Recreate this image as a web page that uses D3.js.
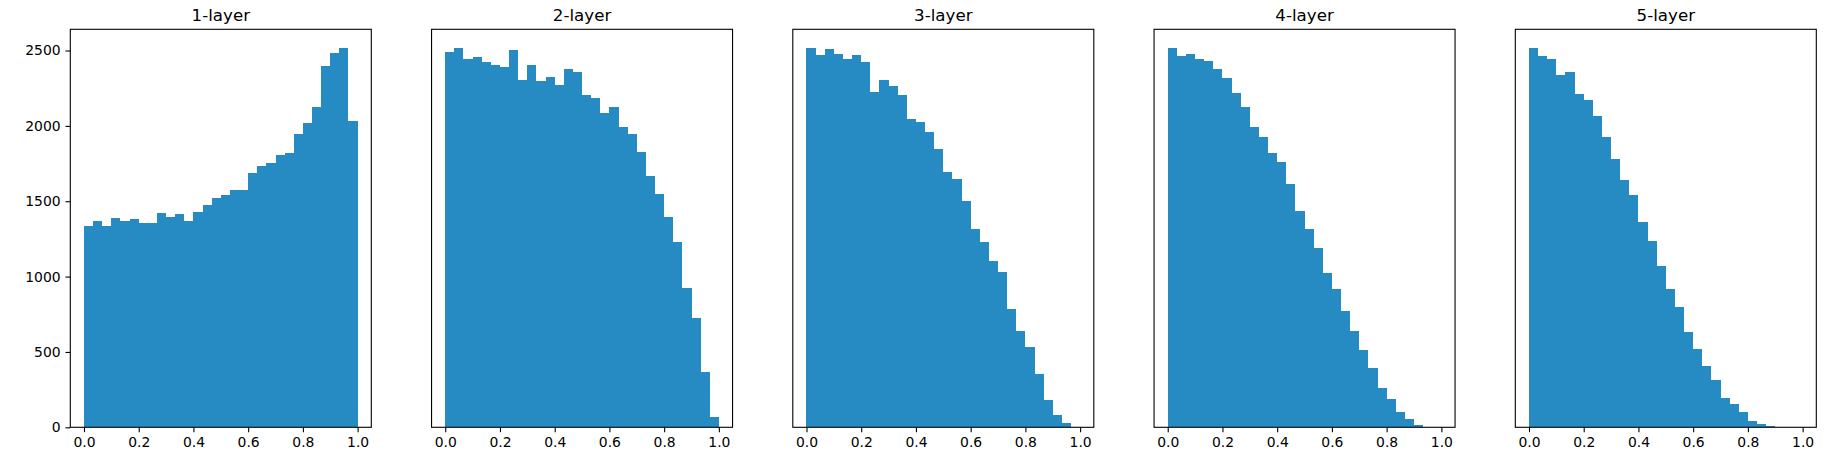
<!DOCTYPE html>
<html>
<head>
<meta charset="utf-8">
<script src="https://cdn.jsdelivr.net/npm/d3@7"></script>
<style>
  html, body { margin: 0; padding: 0; background: #fff; }
  svg { display: block; }
  text { font-family: "DejaVu Sans", sans-serif; fill: #000; }
</style>
</head>
<body>
<svg id="chart" width="1844" height="463"></svg>
<script>
// ---- data ----
const titles = ["1-layer", "2-layer", "3-layer", "4-layer", "5-layer"];
const binCount = 30;
const layer1 = [1335,1368,1335,1386,1368,1379,1355,1355,1421,1395,1412,1368,1428,1474,1521,1541,1574,1574,1687,1733,1753,1806,1819,1945,2018,2124,2396,2482,2515,2031];
const layer2 = [2489,2515,2443,2456,2423,2403,2389,2502,2303,2403,2297,2323,2270,2376,2359,2204,2184,2084,2124,1992,1945,1826,1667,1547,1395,1229,924,725,367,69];
const layer3 = [2515,2469,2509,2476,2443,2469,2423,2224,2303,2263,2204,2045,2025,1958,1846,1693,1647,1501,1315,1229,1103,1030,785,639,533,354,181,82,29,1];
const layer4 = [2515,2462,2476,2443,2429,2376,2317,2217,2124,1992,1926,1819,1760,1614,1435,1315,1189,1023,917,771,639,513,393,261,188,102,55,15,2,0];
const layer5 = [2515,2462,2443,2336,2356,2210,2171,2065,1926,1781,1640,1541,1362,1236,1070,917,798,632,519,407,314,195,155,102,42,22,9,2,0,0];
const xTicks = [0, 0.2, 0.4, 0.6, 0.8, 1.0];
const yTicks = [0, 500, 1000, 1500, 2000, 2500];

const series = [layer1, layer2, layer3, layer4, layer5];

// ---- layout ----
const svg = d3.select("#chart");
const panelLeft0 = 70.3, panelStep = 361.25, panelW = 301;
const plotTop = 29.3, plotBottom = 427.3;
const barColor = "#258bc2";
const tickLen = 4.86, tickPad = 4.86;

const yMax = d3.max(series, s => d3.max(s)) * 1.05;
const y = d3.scaleLinear().domain([0, yMax]).range([plotBottom, plotTop]);

series.forEach((vals, i) => {
  const left = panelLeft0 + i * panelStep;
  const x = d3.scaleLinear().domain([-0.05, 1.05]).range([left, left + panelW]);
  const bins = vals.map((v, k) => ({ x0: k / binCount, x1: (k + 1) / binCount, v }));
  const g = svg.append("g");

  g.selectAll("rect.bar").data(bins).enter().append("rect")
    .attr("class", "bar")
    .attr("x", d => x(d.x0))
    .attr("width", d => x(d.x1) - x(d.x0))
    .attr("y", d => y(d.v))
    .attr("height", d => y(0) - y(d.v))
    .attr("fill", barColor)
    .attr("shape-rendering", "crispEdges");

  // x axis
  const xAxis = d3.axisBottom(x).tickValues(xTicks).tickFormat(d3.format(".1f"))
    .tickSize(tickLen).tickPadding(tickPad);
  const gx = g.append("g").attr("transform", `translate(0,${plotBottom})`).call(xAxis);
  gx.select(".domain").remove();
  gx.selectAll(".tick line").attr("stroke", "#000").attr("stroke-width", 1.1);
  gx.selectAll(".tick text").attr("font-size", 13.9).attr("font-family", "DejaVu Sans").attr("fill", "#000");

  if (i === 0) {
    const yAxis = d3.axisLeft(y).tickValues(yTicks).tickFormat(d3.format("d"))
      .tickSize(tickLen).tickPadding(tickPad);
    const gy = g.append("g").attr("transform", `translate(${left},0)`).call(yAxis);
    gy.select(".domain").remove();
    gy.selectAll(".tick line").attr("stroke", "#000").attr("stroke-width", 1.1);
    gy.selectAll(".tick text").attr("font-size", 13.9).attr("font-family", "DejaVu Sans").attr("fill", "#000");
  }

  // frame
  g.append("rect")
    .attr("x", left).attr("y", plotTop)
    .attr("width", panelW).attr("height", plotBottom - plotTop)
    .attr("fill", "none").attr("stroke", "#000").attr("stroke-width", 1.1);

  // title
  g.append("text")
    .attr("x", left + panelW / 2).attr("y", plotTop - 8.3)
    .attr("text-anchor", "middle")
    .attr("font-size", 16.67)
    .text(titles[i]);
});
</script>
</body>
</html>
